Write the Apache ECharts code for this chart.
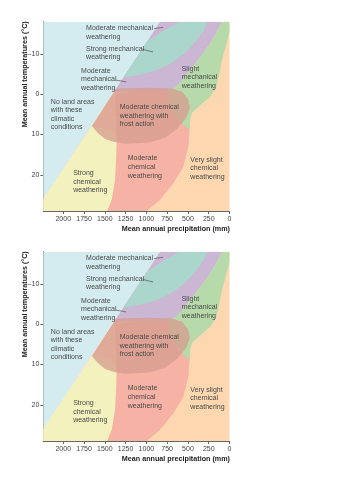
<!DOCTYPE html>
<html>
<head>
<meta charset="utf-8">
<script src="https://cdn.jsdelivr.net/npm/echarts@6/dist/echarts.min.js"></script>
<style>
  html, body { margin: 0; padding: 0; background: #fff; }
  #chart { width: 353px; height: 500px; }
</style>
</head>
<body>
<div id="chart"></div>
<script>
"use strict";

// axis ticks
var precipTicks = [0, 250, 500, 750, 1000, 1250, 1500, 1750, 2000];
var tempTicks = [-10, 0, 10, 20];

// region outlines as [precipitation (mm), temperature (°C)]
var noLandAreas = [[2240, 26], [835, -18], [2240, -18]];
var verySlightChemical = [[835, -18], [0, -18], [0, 29], [2240, 29], [2240, 26]];
var strongChemical = [[2240, 29], [2240, 26], [1655, 7.9], [1400, 9], [1356, 12], [1364, 16.3],
  [1376, 21.3], [1416, 26.2], [1472, 29]];
var moderateChemical = [[1472, 29], [1416, 26.2], [1376, 21.3], [1364, 16.3], [1356, 11], [1380, 0],
  [1000, -1], [700, -0.5], [560, 2], [475, 6.4], [481, 8.9], [495, 13], [555, 18], [675, 22.1],
  [835, 26.2], [995, 29]];
var moderateMechanical = [[835, -18], [90, -18], [174, -14.7], [270, -11.5], [379, -8.5], [499, -5.3],
  [619, -2.3], [739, -0.6], [1000, -0.8], [1394, -0.5]];
var slightMechanical = [[0, -18], [90, -18], [174, -14.7], [270, -11.5], [379, -8.5], [499, -5.3],
  [619, -2.3], [739, -0.6], [700, 4], [560, 7.5], [481, 8.9], [475, 6.4], [451, 4.6], [331, 2.4],
  [234, 0.7], [162, -1.6], [126, -4.8], [90, -8.5], [42, -12.2], [0, -15.5]];
var strongMechanical = [[595, -18], [270, -18], [307, -16], [391, -13.5], [535, -10.2], [715, -7.5],
  [896, -5.8], [1076, -4.8], [1268, -4.2], [1276, -4.2], [991, -13.1], [775, -16]];
var frostAction = [[1655, 7.9], [1587, 9.6], [1497, 11.1], [1400, 11.8], [1256, 12.3], [1136, 12.2],
  [956, 12], [776, 10.8], [619, 8.4], [523, 5.9], [475, 3.4], [499, 1.2], [571, -0.6], [691, -1.4],
  [956, -1.6], [1364, -1.4]];

// text labels: [precipitation, temperature, text]
var regionLabels = [
  [1725, -17.5, "Moderate mechanical\nweathering"],
  [1725, -12.3, "Strong mechanical\nweathering"],
  [1785, -6.9, "Moderate\nmechanical\nweathering"],
  [2149, 0.8, "No land areas\nwith these\nclimatic\nconditions"],
  [1320, 2.2, "Moderate chemical\nweathering with\nfrost action"],
  [575, -7.4, "Slight\nmechanical\nweathering"],
  [1881, 18.5, "Strong\nchemical\nweathering"],
  [1224, 14.9, "Moderate\nchemical\nweathering"],
  [471, 15.2, "Very slight\nchemical\nweathering"]
];
// leader lines: [p1, t1, p2, t2]
var leaders = [
  [907, -16.3, 799, -16.6],
  [1040, -11.1, 920, -10.5],
  [1364, -3.5, 1244, -3.05]
];

var regions = [
  { pts: noLandAreas, color: "#d4ecf0" },
  { pts: verySlightChemical, color: "#fcd7b0" },
  { pts: strongChemical, color: "#f3f2be" },
  { pts: moderateChemical, color: "#f6b2a5" },
  { pts: moderateMechanical, color: "#cbb6d4" },
  { pts: slightMechanical, color: "#b7daaa" },
  { pts: strongMechanical, color: "#aad6cc" },
  { pts: frostAction, color: "rgba(214,158,143,0.78)" }
];

var textColor = "#4a4a4a";
var font = "Liberation Sans";
var gridTops = [21.7, 251.7];

var chart = echarts.init(document.getElementById("chart"));

var grids = [], xAxes = [], yAxes = [], series = [], graphics = [];

gridTops.forEach(function (top, i) {
  grids.push({ left: 43.3, top: top, width: 186.2, height: 189.3 });
  xAxes.push({
    gridIndex: i,
    type: "value",
    position: "bottom",
    min: 0,
    max: 2240,
    inverse: true,
    axisLine: { onZero: false, lineStyle: { color: "#666", width: 1 } },
    axisTick: { customValues: precipTicks, length: 3, lineStyle: { color: "#666" } },
    axisLabel: {
      customValues: precipTicks, margin: 5, fontSize: 7, color: "#444", fontFamily: font,
      formatter: function (v) { return String(v); }
    },
    splitLine: { show: false }
  });
  yAxes.push({
    gridIndex: i,
    type: "value",
    position: "left",
    min: -18,
    max: 29,
    inverse: true,
    axisLine: { onZero: false, lineStyle: { color: "#666", width: 1 } },
    axisTick: { customValues: tempTicks, length: 3, lineStyle: { color: "#666" } },
    axisLabel: {
      customValues: tempTicks, margin: 4, fontSize: 7, color: "#444", fontFamily: font,
      formatter: function (v) { return v < 0 ? "\u2013" + (-v) : String(v); }
    },
    splitLine: { show: false }
  });

  regions.forEach(function (r) {
    series.push({
      type: "custom",
      xAxisIndex: i,
      yAxisIndex: i,
      clip: true,
      silent: true,
      data: [r.pts[0]],
      renderItem: function (params, api) {
        var pts = r.pts.map(function (p) { return api.coord(p); });
        return { type: "polygon", shape: { points: pts }, style: { fill: r.color } };
      }
    });
  });

  series.push({
    type: "custom",
    xAxisIndex: i,
    yAxisIndex: i,
    silent: true,
    data: leaders.map(function (l) { return [l[0], l[1]]; }),
    renderItem: function (params, api) {
      var l = leaders[params.dataIndex];
      var a = api.coord([l[0], l[1]]), b = api.coord([l[2], l[3]]);
      return {
        type: "line",
        shape: { x1: a[0], y1: a[1], x2: b[0], y2: b[1] },
        style: { stroke: "#555", lineWidth: 0.7 }
      };
    }
  });

  series.push({
    type: "custom",
    xAxisIndex: i,
    yAxisIndex: i,
    silent: true,
    data: regionLabels.map(function (l) { return [l[0], l[1]]; }),
    renderItem: function (params, api) {
      var l = regionLabels[params.dataIndex];
      var c = api.coord([l[0], l[1]]);
      return {
        type: "text",
        x: c[0],
        y: c[1],
        style: {
          text: l[2],
          fill: textColor,
          fontSize: 7,
          fontFamily: font,
          lineHeight: 8.6,
          align: "left",
          verticalAlign: "top"
        }
      };
    }
  });

  graphics.push({
    type: "text",
    x: 25,
    y: top + 52.5,
    rotation: Math.PI / 2,
    style: {
      text: "Mean annual temperatures (\u00b0C)",
      fill: "#222",
      font: "bold 7.2px " + font,
      align: "center",
      verticalAlign: "middle"
    }
  });
  graphics.push({
    type: "text",
    x: 230,
    y: top + 207.6,
    style: {
      text: "Mean annual precipitation (mm)",
      fill: "#222",
      font: "bold 7.2px " + font,
      align: "right",
      verticalAlign: "middle"
    }
  });
});

chart.setOption({
  animation: false,
  grid: grids,
  xAxis: xAxes,
  yAxis: yAxes,
  series: series,
  graphic: graphics
});
</script>
</body>
</html>
